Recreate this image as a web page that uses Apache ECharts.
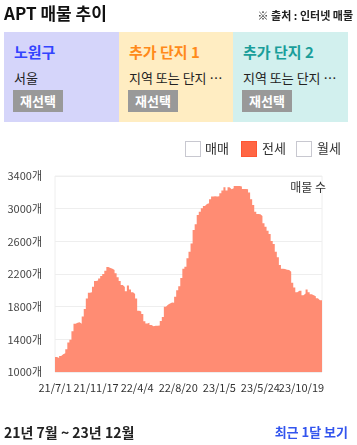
<!DOCTYPE html>
<html><head><meta charset="utf-8">
<script src="https://cdn.jsdelivr.net/npm/echarts@6/dist/echarts.min.js"></script>
<style>
html,body{margin:0;padding:0;width:357px;height:445px;overflow:hidden;background:#fff;font-family:"Noto Sans CJK KR","Noto Sans",sans-serif;}
#chart{position:absolute;left:0;top:0;width:357px;height:445px;}
.abs{position:absolute;white-space:nowrap;}
.box{position:absolute;top:32px;height:90px;}
.box .h{position:absolute;left:10px;top:9px;font-size:15px;font-weight:bold;line-height:22px;}
.box .s{position:absolute;left:10px;top:37px;font-size:13px;color:#222;line-height:18px;}
.box .b{position:absolute;left:9px;top:58px;width:50px;height:22px;background:#999;color:#fff;font-size:13px;font-weight:bold;line-height:22px;text-align:center;}
.cb{position:absolute;top:141px;width:14px;height:14px;border:1px solid #c8c8d0;background:#fff;}
.lt{position:absolute;top:139px;font-size:13px;color:#333;line-height:18px;}
</style></head>
<body>
<div id="chart"></div>
<div class="abs" style="left:4px;top:1px;font-size:17px;font-weight:bold;color:#111;line-height:24px;">APT 매물 추이</div>
<div class="abs" style="right:4px;top:7px;font-size:11px;font-weight:bold;color:#222;line-height:16px;">※ 출처 : 인터넷 매물</div>
<div class="box" style="left:4px;width:115px;background:#d5d5fa;"><div class="h" style="color:#3344ff;">노원구</div><div class="s">서울</div><div class="b">재선택</div></div>
<div class="box" style="left:119px;width:114px;background:#ffedc2;"><div class="h" style="color:#ff8a1a;">추가 단지 1</div><div class="s">지역 또는 단지 …</div><div class="b">재선택</div></div>
<div class="box" style="left:233px;width:115px;background:#d2f0ee;"><div class="h" style="color:#1a9e9a;">추가 단지 2</div><div class="s">지역 또는 단지 …</div><div class="b">재선택</div></div>
<div class="cb" style="left:185px;"></div><div class="lt" style="left:205px;">매매</div>
<div class="cb" style="left:241px;background:#ff6644;border-color:#ff5533;"></div><div class="lt" style="left:262px;">전세</div>
<div class="cb" style="left:296px;"></div><div class="lt" style="left:317px;">월세</div>
<div class="abs" style="left:4px;top:422px;font-size:14px;font-weight:bold;color:#222;line-height:20px;">21년 7월 ~ 23년 12월</div>
<div class="abs" style="right:9px;top:423px;font-size:13px;font-weight:bold;color:#3355ee;line-height:18px;">최근 1달 보기</div>
<script>
// tick labels on the x axis (every 20th category)
var tickLabels = ['21/7/1','21/11/17','22/4/4','22/8/20','23/1/5','23/5/24','23/10/19'];
var tickDates = ['2021-07-01','2021-11-17','2022-04-04','2022-08-20','2023-01-05','2023-05-24','2023-10-19'];
var yTicks = [1000,1400,1800,2200,2600,3000,3400];
// 전세 listing counts
var jeonse = [
1184,1170,1195,1217,1230,1280,1360,1395,1500,1590,
1602,1610,1590,1680,1770,1900,1969,1978,2043,2113,
2120,2146,2174,2200,2239,2285,2272,2264,2250,2210,
2160,2113,2064,2040,1990,2060,2011,1976,1955,1900,
1750,1742,1710,1620,1594,1602,1577,1561,1565,1565,
1569,1626,1675,1798,1822,1839,1851,1848,1920,2002,
2051,2150,2264,2289,2392,2472,2575,2739,2808,2923,
2963,3005,3034,3058,3066,3116,3148,3152,3148,3152,
3189,3221,3262,3221,3262,3238,3250,3279,3279,3279,
3270,3242,3242,3238,3197,3116,3045,2963,2935,2931,
2910,2821,2779,2730,2690,2604,2567,2472,2404,2309,
2264,2260,2252,2248,2228,2092,2036,1978,1994,1994,
1941,1962,2011,1978,1953,1941,1929,1904,1880,1880,
1880];

// build category labels (dates) between the known tick dates
var categories = [];
function fmt(d){return (d.getFullYear()%100)+'/'+(d.getMonth()+1)+'/'+d.getDate();}
for (var i=0;i<jeonse.length;i++){
  var k = Math.floor(i/20), r = i%20;
  if (r===0 && k<tickLabels.length){ categories.push(tickLabels[k]); continue; }
  var a = new Date(tickDates[Math.min(k,tickDates.length-1)]).getTime();
  var b = k+1<tickDates.length ? new Date(tickDates[k+1]).getTime() : a + 140*86400000;
  categories.push(fmt(new Date(a + (b-a)*r/20)));
}

var chart = echarts.init(document.getElementById('chart'), null, {renderer:'canvas'});
chart.setOption({
  animation:false,
  grid:{left:55,right:35,top:176,bottom:73,show:true,borderColor:'#eeeeee',borderWidth:1,backgroundColor:'transparent'},
  xAxis:{type:'category',data:categories,boundaryGap:false,
    axisLine:{show:false},axisTick:{show:false},
    axisLabel:{interval:19,showMaxLabel:true,showMinLabel:true,color:'#333',fontSize:11,margin:10,
      fontFamily:'"Noto Sans CJK KR", sans-serif',hideOverlap:false,
      formatter:function(v,idx){return idx%20===0 ? v : '';}}},
  yAxis:{type:'value',min:yTicks[0],max:yTicks[yTicks.length-1],interval:400,
    axisLine:{show:false},axisTick:{show:false},
    splitLine:{lineStyle:{color:'#eeeeee',width:1}},
    axisLabel:{color:'#444',fontSize:11,margin:13,fontFamily:'"Noto Sans CJK KR", sans-serif',formatter:function(v){return v+'개';}}},
  graphic:[{type:'text',right:31,top:181,style:{text:'매물 수',fill:'#333',font:'12px "Noto Sans CJK KR", sans-serif'}}],
  series:[{type:'line',name:'전세',data:jeonse,step:'end',symbol:'none',
    lineStyle:{width:0,color:'#ff8c73'},areaStyle:{color:'#ff8c73',opacity:1},itemStyle:{color:'#ff8c73'}}]
});
</script>
</body></html>
